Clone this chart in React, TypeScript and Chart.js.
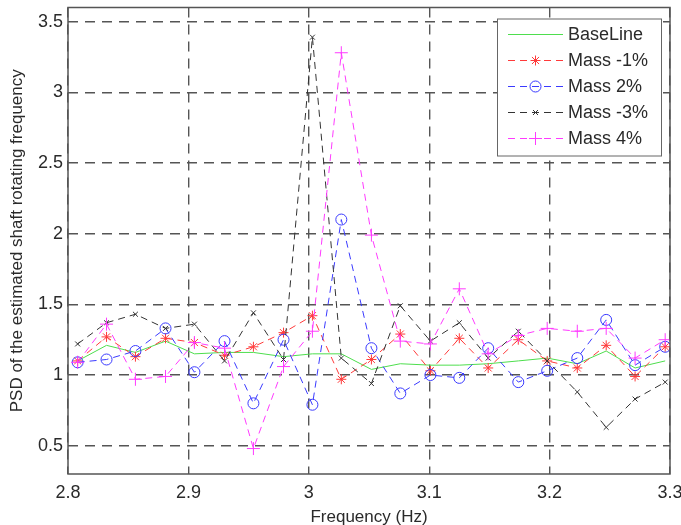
import React, { useEffect, useRef } from "react";
import { Chart, registerables } from "chart.js";
import { drawPoint } from "chart.js/helpers";

Chart.register(...registerables);

const frequencies = [2.808, 2.832, 2.856, 2.881, 2.905, 2.93, 2.954, 2.979, 3.003, 3.027, 3.052, 3.076, 3.101, 3.125, 3.149, 3.174, 3.198, 3.223, 3.247, 3.271, 3.296];
const baseline = [1.10, 1.21, 1.16, 1.24, 1.15, 1.16, 1.16, 1.13, 1.15, 1.15, 1.04, 1.08, 1.07, 1.07, 1.08, 1.10, 1.12, 1.08, 1.17, 1.05, 1.10];
const massMinus1 = [1.10, 1.27, 1.13, 1.26, 1.23, 1.14, 1.20, 1.30, 1.42, 0.97, 1.11, 1.29, 1.03, 1.26, 1.05, 1.25, 1.10, 1.05, 1.21, 0.99, 1.20];
const mass2 = [1.09, 1.11, 1.17, 1.33, 1.02, 1.24, 0.80, 1.25, 0.79, 2.10, 1.19, 0.87, 1.00, 0.98, 1.19, 0.95, 1.03, 1.12, 1.39, 1.07, 1.20];
const massMinus3 = [1.22, 1.37, 1.43, 1.33, 1.36, 1.10, 1.44, 1.11, 3.39, 1.12, 0.94, 1.49, 1.24, 1.37, 1.12, 1.31, 1.10, 0.88, 0.63, 0.83, 0.95];
const mass4 = [1.09, 1.36, 0.97, 0.99, 1.23, 1.19, 0.48, 1.06, 1.31, 3.28, 1.99, 1.24, 1.22, 1.61, 1.15, 1.28, 1.33, 1.31, 1.33, 1.12, 1.25];

const seriesLabels = ["BaseLine", "Mass -1%", "Mass 2%", "Mass -3%", "Mass 4%"];
const xTicks = [2.8, 2.9, 3.0, 3.1, 3.2, 3.3];
const yTicks = [0.5, 1, 1.5, 2, 2.5, 3, 3.5];
const xTitle = "Frequency (Hz)";
const yTitle = "PSD of the estimated shaft rotating frequency";

const FONT = "'Liberation Sans', Arial, Helvetica, sans-serif";
const TEXT = "#2a2a2a";

const styles = [
  { color: "#4ede4e", dash: [], point: false, radius: 0 },
  { color: "#ff3a3a", dash: [7, 5], point: "star", radius: 5 },
  { color: "#3a3aff", dash: [7, 5], point: "circle", radius: 5.5 },
  { color: "#333333", dash: [7, 5], point: "crossRot", radius: 3.5 },
  { color: "#ff3aff", dash: [7, 5], point: "cross", radius: 6.5 },
];

const seriesValues = [baseline, massMinus1, mass2, massMinus3, mass4];

const framePlugin = {
  id: "frame",
  afterDatasetsDraw(chart: any) {
    const { ctx, chartArea: a } = chart;
    ctx.save();
    ctx.strokeStyle = "#555";
    ctx.lineWidth = 1.5;
    ctx.setLineDash([]);
    ctx.strokeRect(a.left, a.top, a.right - a.left, a.bottom - a.top);
    ctx.restore();
  },
};

const legendPlugin = {
  id: "matlabLegend",
  afterDraw(chart: any) {
    const { ctx, chartArea: a } = chart;
    const w = 164;
    const h = 137;
    const left = a.right - w - 9;
    const top = a.top + 11;
    ctx.save();
    ctx.fillStyle = "#fff";
    ctx.fillRect(left, top, w, h);
    ctx.strokeStyle = "#666";
    ctx.lineWidth = 1;
    ctx.setLineDash([]);
    ctx.strokeRect(left + 0.5, top + 0.5, w, h);
    chart.data.datasets.forEach((ds: any, i: number) => {
      const y = top + 16 + i * 26;
      const x1 = left + 11;
      const x2 = left + 66;
      ctx.save();
      ctx.strokeStyle = ds.borderColor;
      ctx.lineWidth = 1;
      ctx.setLineDash(ds.borderDash || []);
      ctx.beginPath();
      ctx.moveTo(x1, y);
      ctx.lineTo(x2, y);
      ctx.stroke();
      ctx.setLineDash([]);
      if (ds.pointStyle && ds.pointRadius > 0) {
        ctx.strokeStyle = ds.borderColor;
        ctx.fillStyle = "rgba(0,0,0,0)";
        ctx.lineWidth = 1;
        drawPoint(ctx, { pointStyle: ds.pointStyle, radius: ds.pointRadius, rotation: 0, borderWidth: 1 }, (x1 + x2) / 2, y);
      }
      ctx.restore();
      ctx.fillStyle = TEXT;
      ctx.font = `18px ${FONT}`;
      ctx.textAlign = "left";
      ctx.textBaseline = "middle";
      ctx.fillText(ds.label, left + 71, y + 1);
    });
    ctx.restore();
  },
};

export default function App() {
  const ref = useRef<HTMLCanvasElement | null>(null);
  useEffect(() => {
    document.body.style.margin = "0";
    const canvas = ref.current;
    if (!canvas) return;
    const datasets = seriesValues.map((vals, i) => ({
      label: seriesLabels[i],
      data: frequencies.map((f, j) => ({ x: f, y: vals[j] })),
      borderColor: styles[i].color,
      backgroundColor: "rgba(0,0,0,0)",
      borderWidth: 1,
      borderDash: styles[i].dash,
      pointStyle: styles[i].point,
      pointRadius: styles[i].radius,
      pointBorderColor: styles[i].color,
      pointBackgroundColor: "rgba(0,0,0,0)",
      pointBorderWidth: 1,
      tension: 0,
      order: 5 - i,
    }));
    const chart = new Chart(canvas, {
      type: "line",
      data: { datasets },
      options: {
        responsive: false,
        animation: false,
        devicePixelRatio: 1,
        layout: { padding: { left: 0, right: 11, top: 5, bottom: 0 } },
        plugins: { legend: { display: false }, tooltip: { enabled: false } },
        scales: {
          x: {
            type: "linear",
            min: 2.8,
            max: 3.3,
            afterBuildTicks: (s: any) => {
              s.ticks = xTicks.map((v) => ({ value: v }));
            },
            afterFit: (s: any) => {
              s.height = 51;
              s.paddingLeft = 0;
              s.paddingRight = 0;
            },
            ticks: {
              color: TEXT,
              font: { family: FONT, size: 18 },
              padding: 8,
              maxRotation: 0,
              callback: (v: any) => String(Number(v)),
            },
            grid: { color: "#555", lineWidth: 1.4, drawTicks: false },
            border: { display: false, dash: [10, 7] },
            title: { display: true, text: xTitle, color: TEXT, font: { family: FONT, size: 17 }, padding: { top: 0, bottom: -3 } },
          },
          y: {
            type: "linear",
            min: 0.3,
            max: 3.6,
            afterBuildTicks: (s: any) => {
              s.ticks = yTicks.map((v) => ({ value: v }));
            },
            afterFit: (s: any) => {
              s.width = 68;
              s.paddingTop = 0;
              s.paddingBottom = 0;
            },
            ticks: {
              color: TEXT,
              font: { family: FONT, size: 18 },
              padding: 5,
              callback: (v: any) => String(Number(v)),
            },
            grid: { color: "#555", lineWidth: 1.4, drawTicks: false },
            border: { display: false, dash: [10, 7] },
            title: { display: true, text: yTitle, color: TEXT, font: { family: FONT, size: 17 }, padding: { top: 7, bottom: 0 } },
          },
        },
      },
      plugins: [framePlugin, legendPlugin],
    } as any);
    return () => chart.destroy();
  }, []);
  return (
    <div style={{ width: 681, height: 525, background: "#fff" }}>
      <canvas ref={ref} width={681} height={525} style={{ display: "block" }} />
    </div>
  );
}
